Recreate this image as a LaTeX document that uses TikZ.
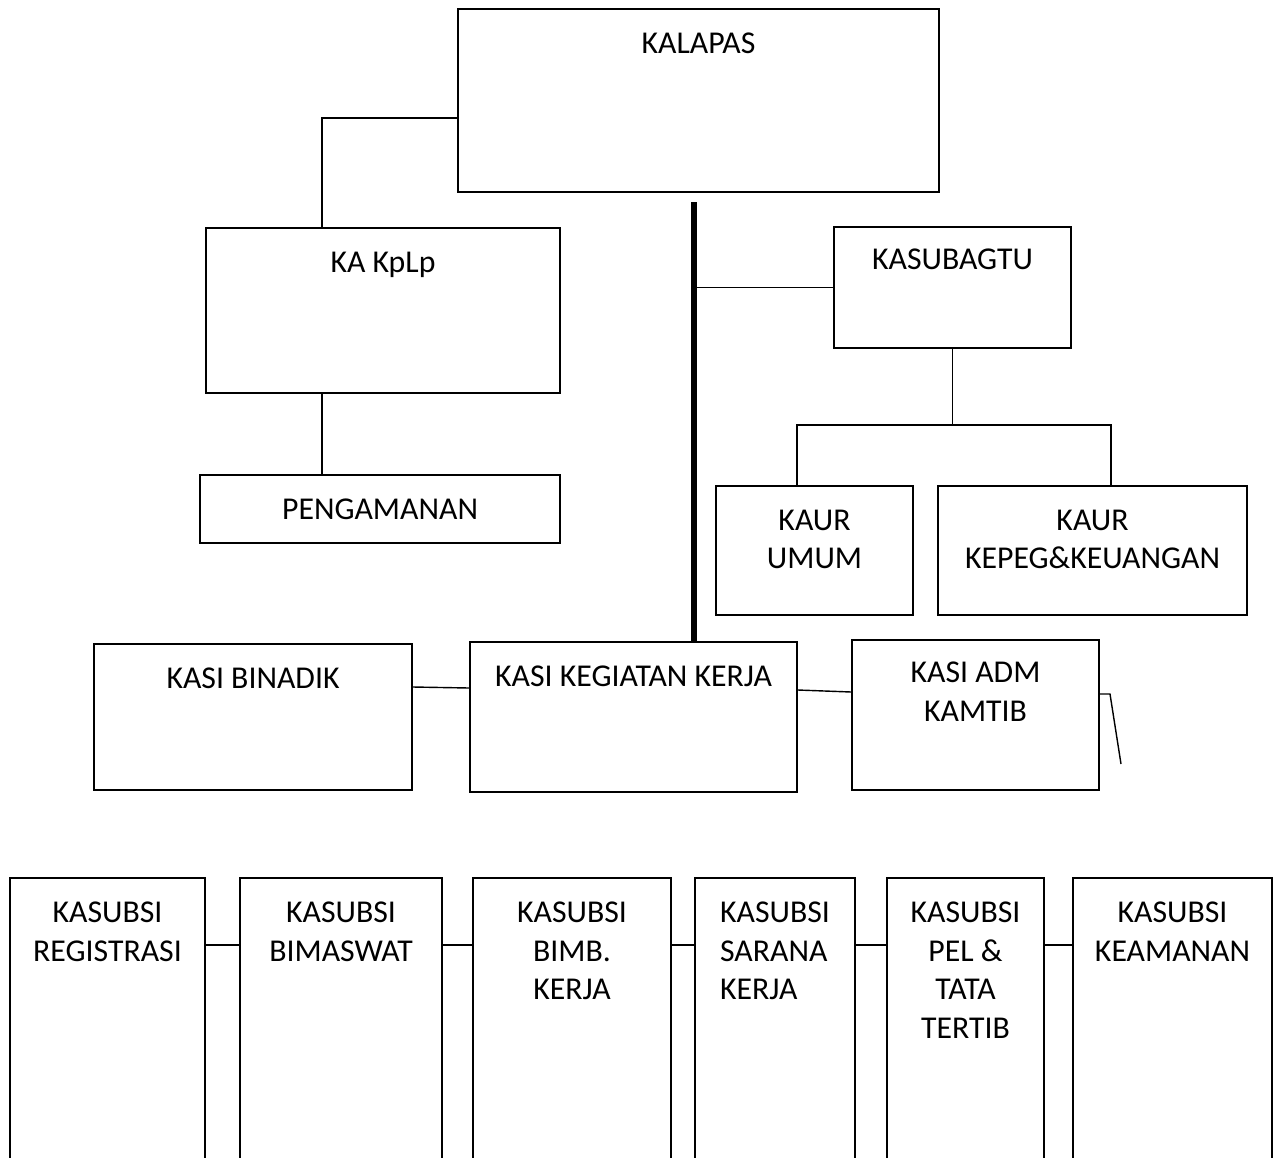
\documentclass[tikz,border=0pt]{standalone}
\usepackage{fontspec}
\setmainfont{Carlito}
\usetikzlibrary{fit}
\tikzset{
  box/.style={rectangle, draw=black, line width=1.2pt, inner sep=0pt},
  lbl/.style={anchor=north, align=center, inner sep=0pt, yshift=-0.61cm},
  link/.style={line width=1pt},
  trunk/.style={line width=4pt}
}

\begin{document}
\begin{tikzpicture}[x=0.025cm, y=0.025cm, font=\fontsize{22.6}{27.5}\selectfont]
    \useasboundingbox (0,0) rectangle (1280,-1157);
    \clip (0,0) rectangle (1280,-1157);

    \node (kalapas) [box, fit={(458,-9) (939,-192)}, label={[lbl]north:KALAPAS}] {};
    \node (kplp) [box, fit={(206,-228) (560,-393)}, label={[lbl]north:KA KpLp}] {};
    \node (peng) [box, fit={(200,-475) (560,-543)}, label={[lbl]north:PENGAMANAN}] {};
    \node (kasubag) [box, fit={(834,-227) (1071,-348)}, label={[lbl, yshift=0.05cm]north:KASUBAGTU}] {};
    \node (umum) [box, fit={(716,-486) (913,-615)}, label={[lbl]north:{KAUR\\UMUM}}] {};
    \node (kepeg) [box, fit={(938,-486) (1247,-615)}, label={[lbl]north:{KAUR\\KEPEG\&KEUANGAN}}] {};
    \node (binadik) [box, fit={(94,-644) (412,-790)}, label={[lbl]north:KASI BINADIK}] {};
    \node (kegiatan) [box, fit={(470,-642) (797,-792)}, label={[lbl]north:KASI KEGIATAN KERJA}] {};
    \node (adm) [box, fit={(852,-640) (1099,-790)}, label={[lbl, yshift=0.05cm]north:{KASI ADM\\KAMTIB}}] {};

    % bottom row, cut off by the page edge
    \node (regis) [box, fit={(10,-878) (205,-1200)}, label={[lbl]north:{KASUBSI\\REGISTRASI}}] {};
    \node (bimas) [box, fit={(240,-878) (442,-1200)}, label={[lbl]north:{KASUBSI\\BIMASWAT}}] {};
    \node (bimb) [box, fit={(473,-878) (671,-1200)}, label={[lbl]north:{KASUBSI\\BIMB.\\KERJA}}] {};
    \node (sarana) [box, fit={(695,-878) (855,-1200)}, label={[lbl, align=left]north:{KASUBSI\\SARANA\\KERJA}}] {};
    \node (pel) [box, fit={(887,-878) (1044,-1200)}, label={[lbl]north:{KASUBSI\\PEL \&\\TATA\\TERTIB}}] {};
    \node (keam) [box, fit={(1073,-878) (1272,-1200)}, label={[lbl]north:{KASUBSI\\KEAMANAN}}] {};

    \coordinate (leftbus) at (322,-118);
    \coordinate (spine) at (694,-202);
    \coordinate (kaurl) at (797,-425);
    \coordinate (kaurr) at (1111,-425);
    \coordinate (admtail) at (1121,-764);

    % upper part
    \draw[link] (kalapas.west |- leftbus) -- (leftbus) -- (leftbus |- kplp.north);
    \draw[link] (leftbus |- kplp.south) -- (leftbus |- peng.north);
    \draw[trunk] (spine) -- (spine |- kegiatan.north);
    \draw[link] (spine |- kasubag.west) -- (kasubag.west);
    \draw[link] (kasubag.south) -- (kasubag.south |- kaurl);
    \draw[link] (kaurl |- umum.north) -- (kaurl) -- (kaurr) -- (kaurr |- kepeg.north);

    % middle row
    \draw[link] (binadik.east |- 0,-687) -- (kegiatan.west |- 0,-688);
    \draw[link] (kegiatan.east |- 0,-690) -- (adm.west |- 0,-692);
    \draw[link] (adm.east |- 0,-694) -- (1110,-694) -- (admtail);

    % bottom row
    \draw[link] (regis.east |- 0,-945) -- (bimas.west |- 0,-945);
    \draw[link] (bimas.east |- 0,-945) -- (bimb.west |- 0,-945);
    \draw[link] (bimb.east |- 0,-945) -- (sarana.west |- 0,-945);
    \draw[link] (sarana.east |- 0,-945) -- (pel.west |- 0,-945);
    \draw[link] (pel.east |- 0,-945) -- (keam.west |- 0,-945);
  \end{tikzpicture}
\end{document}
